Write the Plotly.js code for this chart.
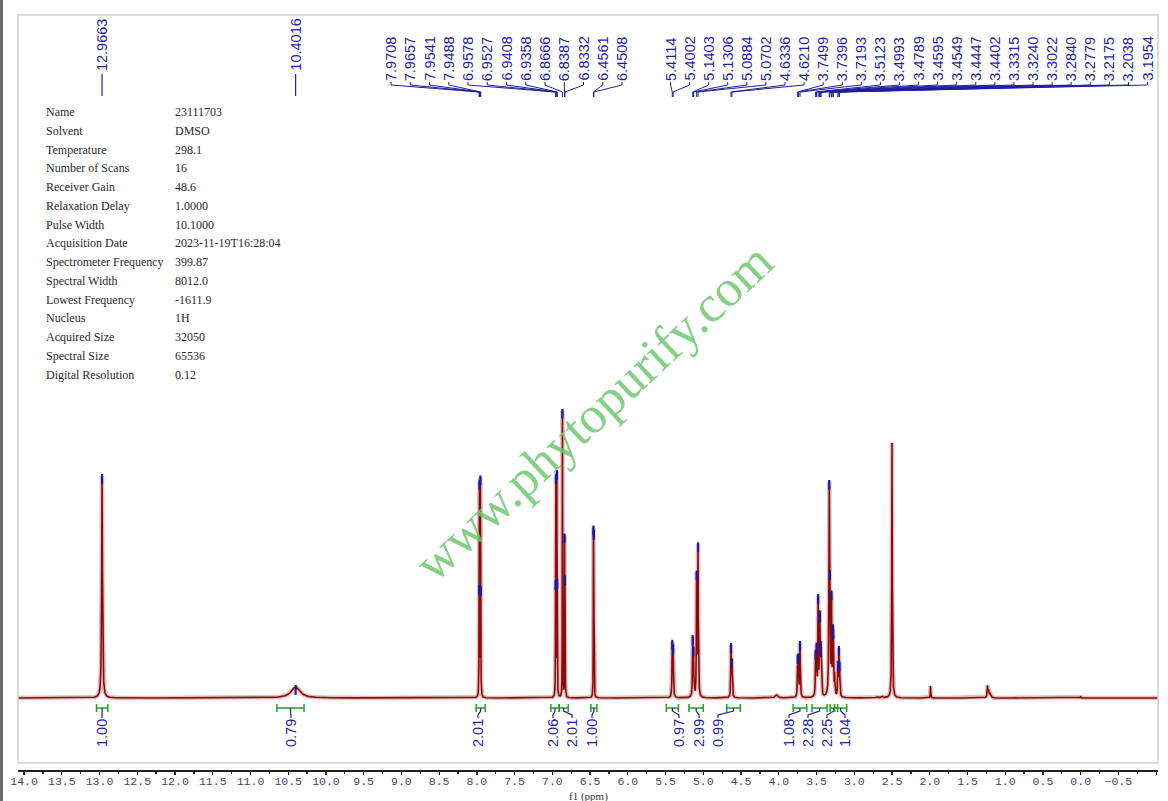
<!DOCTYPE html>
<html>
<head>
<meta charset="utf-8">
<script src="https://cdn.plot.ly/plotly-3.0.1.min.js"></script>
<style>
  html, body { margin: 0; padding: 0; background: #fff; }
  #nmr { width: 1168px; height: 801px; }
</style>
</head>
<body>
<div id="nmr"></div>
<script>
// ---- data ----
// every line in the spectrum: shift (ppm), height above baseline, half width (ppm)
const peakPpm = [
  12.9663, 10.4016,
  7.9708, 7.9657, 7.9541, 7.9488,
  6.9578, 6.9527, 6.9408, 6.9358,
  6.8666, 6.8387, 6.8332,
  6.4561, 6.4508,
  5.4114, 5.4002, 5.1403, 5.1306, 5.0884, 5.0702,
  4.6336, 4.6210, 4.03,
  3.7499, 3.7396, 3.7193,
  3.5123, 3.4993, 3.4789, 3.4595, 3.4549, 3.4447, 3.4402,
  3.3315, 3.3240, 3.3022, 3.2840, 3.2779, 3.26, 3.2175, 3.2038, 3.1954,
  2.70, 2.63, 2.50, 1.99, 1.235, 1.222, 1.20, 0.00
];
const peakHeight = [
  222, 11,
  86, 201, 206, 86,
  90, 206, 210, 90,
  286, 151, 105,
  155, 150,
  51, 46, 54, 40, 118, 148,
  50, 33, 3,
  36, 36, 53,
  40, 45, 95, 55, 50, 30, 28,
  200, 60, 94, 50, 46, 20, 30, 42, 25,
  1.5, 1.5, 255, 12, 11, 7, 4, 2
];
const peakHalfWidth = [
  0.006, 0.07,
  0.0018, 0.0018, 0.0018, 0.0018,
  0.0018, 0.0018, 0.0018, 0.0018,
  0.0018, 0.0018, 0.0018,
  0.0018, 0.0018,
  0.004, 0.004, 0.004, 0.004, 0.004, 0.004,
  0.004, 0.004, 0.02,
  0.004, 0.004, 0.004,
  0.004, 0.004, 0.004, 0.004, 0.004, 0.004, 0.004,
  0.005, 0.004, 0.004, 0.004, 0.004, 0.004, 0.004, 0.004, 0.004,
  0.01, 0.01, 0.004, 0.003, 0.005, 0.006, 0.01, 0.003
];

// picked peaks labelled along the top
const pickedPpm = [
  12.9663, 10.4016,
  7.9708, 7.9657, 7.9541, 7.9488, 6.9578, 6.9527, 6.9408, 6.9358,
  6.8666, 6.8387, 6.8332, 6.4561, 6.4508,
  5.4114, 5.4002, 5.1403, 5.1306, 5.0884, 5.0702, 4.6336, 4.6210,
  3.7499, 3.7396, 3.7193, 3.5123, 3.4993, 3.4789, 3.4595, 3.4549,
  3.4447, 3.4402, 3.3315, 3.3240, 3.3022, 3.2840, 3.2779, 3.2175,
  3.2038, 3.1954
];

// integrals: region (ppm) and value
const integralFrom = [13.04, 10.65, 8.01, 7.02, 6.91, 6.49, 5.49, 5.19, 4.69, 3.81, 3.56, 3.32, 3.26];
const integralTo   = [12.89, 10.29, 7.89, 6.91, 6.79, 6.41, 5.33, 5.00, 4.51, 3.63, 3.36, 3.22, 3.10];
const integralValue = ['1.00', '0.79', '2.01', '2.06', '2.01', '1.00', '0.97', '2.99', '0.99', '1.08', '2.28', '2.25', '1.04'];

// acquisition parameters
const paramNames = ['Name', 'Solvent', 'Temperature', 'Number of Scans', 'Receiver Gain',
  'Relaxation Delay', 'Pulse Width', 'Acquisition Date', 'Spectrometer Frequency',
  'Spectral Width', 'Lowest Frequency', 'Nucleus', 'Acquired Size', 'Spectral Size',
  'Digital Resolution'];
const paramValues = ['23111703', 'DMSO', '298.1', '16', '48.6', '1.0000', '10.1000',
  '2023-11-19T16:28:04', '399.87', '8012.0', '-1611.9', '1H', '32050', '65536', '0.12'];

// ---- layout geometry (pixels) ----
const W = 1168, H = 801;
const M = { l: 18, r: 10, t: 15, b: 31 };
const PLOT_W = W - M.l - M.r;
const X0 = 14.08, X1 = -1.024;        // ppm at left / right edge
const BASE_PX = 698;                  // baseline row in the page
const Y_RANGE = [-(H - M.b - BASE_PX), BASE_PX - M.t];

// label slots for the picked peak groups
const labelGroups = [
  { first: 2, count: 13, startPx: 391, stepPx: 19.25 },
  { first: 15, count: 26, startPx: 670.5, stepPx: 19.08 }
];
// where the integral values sit (px)
const integralLabelPx = [102, 291, 478, 553, 572, 592, 679, 699, 718, 789, 808, 827, 845];

const BLUE = '#1f1f9e';
const GREEN = '#22a022';

function pxToPpm(px) { return X0 + (px - M.l) / PLOT_W * (X1 - X0); }
function ppmToPx(ppm) { return M.l + (ppm - X0) / (X1 - X0) * PLOT_W; }
function rowToY(py) { return BASE_PX - py; }

function spectrumAt(x) {
  let s = 0;
  for (let i = 0; i < peakPpm.length; i++) {
    const d = (x - peakPpm[i]) / peakHalfWidth[i];
    s += peakHeight[i] / (1 + d * d);
  }
  return s;
}

// sample positions: coarse everywhere, fine around each line
const xs = [];
for (let x = X0; x >= X1; x -= 0.005) xs.push(x);
peakPpm.forEach((p, i) => {
  const w = peakHalfWidth[i];
  for (let k = -96; k <= 96; k++) xs.push(p + k * w / 8);
});
xs.sort((a, b) => b - a);
const specX = [], specY = [];
xs.forEach(x => { specX.push(x); specY.push(spectrumAt(x)); });

const traces = [
  { x: specX, y: specY, type: 'scatter', mode: 'lines', hoverinfo: 'skip',
    line: { color: 'rgba(170,80,80,0.35)', width: 4.5 } },
  { x: specX, y: specY, type: 'scatter', mode: 'lines', hoverinfo: 'skip',
    line: { color: '#8c0a0a', width: 1.6 } },
  { x: pickedPpm, y: pickedPpm.map(p => spectrumAt(p) - 3), type: 'scatter', mode: 'markers',
    hoverinfo: 'skip',
    marker: { symbol: 'line-ns', size: 7, line: { width: 2.2, color: '#1a1aa8' } } }
];

const shapes = [];
const annotations = [];

// frame
shapes.push({ type: 'rect', xref: 'paper', yref: 'paper', x0: 0, x1: 1,
  y0: (H - M.b - 763) / (H - M.t - M.b), y1: 1, line: { color: '#cfcfcf', width: 1.5 } });
// dark window edge on the left
shapes.push({ type: 'rect', xref: 'paper', yref: 'paper',
  x0: -M.l / PLOT_W, x1: (3 - M.l) / PLOT_W, y0: -M.b / (H - M.t - M.b), y1: 1 + M.t / (H - M.t - M.b),
  fillcolor: '#6a6a6a', line: { width: 0 } });

// picked peak labels and their leaders
const slotPx = pickedPpm.map(p => ppmToPx(p));
labelGroups.forEach(g => {
  for (let k = 0; k < g.count; k++) slotPx[g.first + k] = g.startPx + k * g.stepPx;
});
pickedPpm.forEach((p, i) => {
  const grouped = labelGroups.some(g => i >= g.first && i < g.first + g.count);
  const lx = pxToPpm(slotPx[i]);
  if (grouped) {
    shapes.push({ type: 'path', xref: 'x', yref: 'y',
      path: `M ${lx},${rowToY(82)} L ${lx},${rowToY(85)} L ${p},${rowToY(92)} L ${p},${rowToY(97)}`,
      line: { color: BLUE, width: 1 } });
  } else {
    shapes.push({ type: 'line', xref: 'x', yref: 'y', x0: p, x1: p,
      y0: rowToY(74), y1: rowToY(96), line: { color: BLUE, width: 1.2 } });
  }
  annotations.push({ x: lx, y: rowToY(grouped ? 82 : 72), xref: 'x', yref: 'y',
    text: p.toFixed(4), showarrow: false, textangle: -90, xanchor: 'center', yanchor: 'bottom',
    borderpad: 0, font: { family: 'Liberation Sans, Arial', size: 14.5, color: BLUE } });
});

// integrals
integralValue.forEach((v, i) => {
  const a = integralFrom[i], b = integralTo[i];
  const c = (a + b) / 2;
  const lx = pxToPpm(integralLabelPx[i]);
  shapes.push({ type: 'path', xref: 'x', yref: 'y',
    path: `M ${a},${rowToY(708)} L ${b},${rowToY(708)} M ${a},${rowToY(704)} L ${a},${rowToY(712)} ` +
          `M ${b},${rowToY(704)} L ${b},${rowToY(712)}`,
    line: { color: GREEN, width: 1.5 } });
  shapes.push({ type: 'path', xref: 'x', yref: 'y',
    path: `M ${c},${rowToY(708)} L ${c},${rowToY(711)} L ${lx},${rowToY(715)} L ${lx},${rowToY(718)}`,
    line: { color: BLUE, width: 1.2 } });
  annotations.push({ x: lx, y: rowToY(718), xref: 'x', yref: 'y', text: v, showarrow: false,
    textangle: -90, xanchor: 'center', yanchor: 'top', borderpad: 0,
    font: { family: 'Liberation Sans, Arial', size: 14.5, color: BLUE } });
});

// parameter table
paramNames.forEach((name, i) => {
  const py = 112 + i * 18.77;
  annotations.push({ x: pxToPpm(45), y: rowToY(py), xref: 'x', yref: 'y', text: name,
    showarrow: false, xanchor: 'left', yanchor: 'middle', borderpad: 0,
    font: { family: 'Liberation Serif', size: 12, color: '#2a2a2a' } });
  annotations.push({ x: pxToPpm(174), y: rowToY(py), xref: 'x', yref: 'y', text: paramValues[i],
    showarrow: false, xanchor: 'left', yanchor: 'middle', borderpad: 0,
    font: { family: 'Liberation Serif', size: 12, color: '#2a2a2a' } });
});

// watermark
annotations.push({ x: pxToPpm(593), y: rowToY(412), xref: 'x', yref: 'y',
  text: 'www.phytopurify.com', showarrow: false, textangle: -43,
  xanchor: 'center', yanchor: 'middle',
  font: { family: 'Liberation Serif, Times New Roman', size: 52, color: 'rgba(110,200,110,0.85)' } });

// axis title, partly cut by the page edge as in the original
annotations.push({ x: 0.5, y: -(796 - (H - M.b)) / (H - M.t - M.b), xref: 'paper', yref: 'paper',
  text: 'f1 (ppm)', showarrow: false, xanchor: 'center', yanchor: 'middle',
  font: { family: 'Liberation Serif', size: 11, color: '#333' } });

const layout = {
  width: W, height: H,
  margin: M,
  paper_bgcolor: '#ffffff',
  plot_bgcolor: '#ffffff',
  showlegend: false,
  xaxis: {
    range: [X0, X1],
    showgrid: false, zeroline: false,
    showline: true, linecolor: '#222', linewidth: 2,
    ticks: 'outside', ticklen: 3, tickwidth: 1.3, tickcolor: '#222',
    ticklabelstandoff: -4,
    tick0: 0, dtick: 0.5, tickformat: '.1f',
    tickfont: { family: 'Liberation Mono', size: 11.5, color: '#45456a' },
    minor: { dtick: 0.25, ticks: 'outside', ticklen: 2, tickcolor: '#222', showgrid: false },
    fixedrange: true
  },
  yaxis: { range: Y_RANGE, visible: false, fixedrange: true },
  shapes: shapes,
  annotations: annotations
};

Plotly.newPlot('nmr', traces, layout, { staticPlot: true, displayModeBar: false });
</script>
</body>
</html>
